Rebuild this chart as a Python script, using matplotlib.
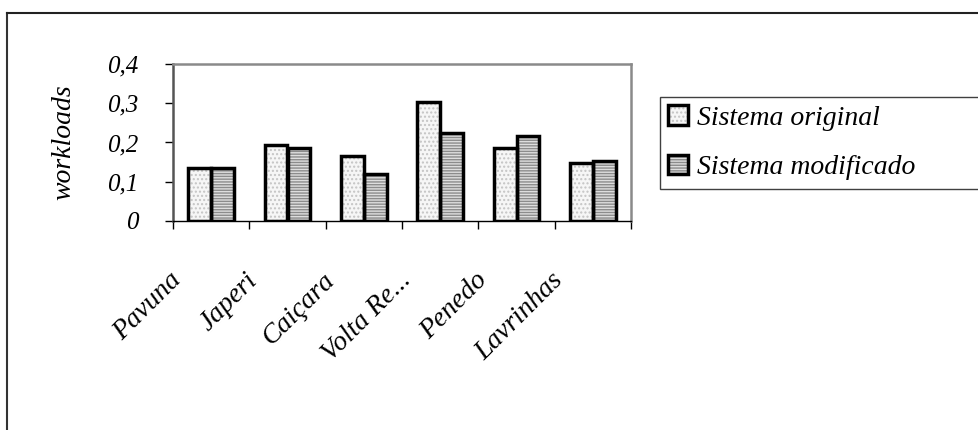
import matplotlib
matplotlib.use("Agg")
import matplotlib.pyplot as plt
import matplotlib.transforms as mtransforms
from matplotlib.patches import Patch
from matplotlib.lines import Line2D
import numpy as np

# dados (workloads por usina)
usinas = ["Pavuna", "Japeri", "Caiçara", "Volta Re...", "Penedo", "Lavrinhas"]
original = [0.135, 0.194, 0.166, 0.304, 0.185, 0.149]
modificado = [0.135, 0.187, 0.121, 0.223, 0.217, 0.154]
yticks = [0, 0.1, 0.2, 0.3, 0.4]
ytick_labels = ["0", "0,1", "0,2", "0,3", "0,4"]
series_names = ["Sistema original", "Sistema modificado"]

plt.rcParams["font.family"] = ["Liberation Serif", "DejaVu Serif"]
plt.rcParams["font.style"] = "italic"
plt.rcParams["hatch.linewidth"] = 1.0

fig = plt.figure(figsize=(9.79, 4.30), dpi=100)
W, H = 979, 430
ax = fig.add_axes([173 / W, 1 - 221 / H, 458 / W, 157 / H])

x = np.arange(len(usinas))
bw = 0.3
fill_o = dict(facecolor="#f6f6f6", edgecolor="#c4c4c4", hatch="....", linewidth=0)
fill_m = dict(facecolor="#dedede", edgecolor="#8c8c8c", hatch="------", linewidth=0)
contorno = dict(facecolor="none", edgecolor="black", linewidth=2.5)

# preenchimento com textura e depois o contorno preto
ax.bar(x - bw / 2, original, bw, **fill_o)
ax.bar(x + bw / 2, modificado, bw, **fill_m)
ax.bar(x - bw / 2, original, bw, **contorno)
ax.bar(x + bw / 2, modificado, bw, **contorno)

ax.set_xlim(-0.5, len(usinas) - 0.5)
ax.set_ylim(0, 0.4)
ax.set_yticks(yticks)
ax.set_yticklabels(ytick_labels, fontsize=18)
ax.tick_params(axis="y", direction="out", length=6, width=1, color="black", pad=19)

# marcas do eixo x entre as categorias
ax.set_xticks(np.arange(len(usinas) + 1) - 0.5)
ax.set_xticklabels([])
ax.tick_params(axis="x", direction="out", length=6, width=1, color="black")

for s in ["top", "right"]:
    ax.spines[s].set_color("#8a8a8a")
    ax.spines[s].set_linewidth(1.8)
ax.spines["left"].set_color("#555555")
ax.spines["left"].set_linewidth(1.8)
ax.spines["bottom"].set_color("black")
ax.spines["bottom"].set_linewidth(1.0)

# rótulos das categorias inclinados
base = mtransforms.blended_transform_factory(ax.transData, ax.transAxes)
off = mtransforms.ScaledTranslation(-42 / 100, -47 / 100, fig.dpi_scale_trans)
for i, nome in enumerate(usinas):
    ax.text(i, 0, nome, transform=base + off, rotation=45, rotation_mode="anchor",
            ha="right", va="top", fontsize=20)

ax.set_ylabel("workloads", fontsize=20)
ax.yaxis.set_label_coords(-0.212, 0.5)

# legenda
handles = [
    (Patch(**fill_o), Patch(facecolor="none", edgecolor="black", linewidth=2.5)),
    (Patch(**fill_m), Patch(facecolor="none", edgecolor="black", linewidth=2.5)),
]
leg = fig.legend(handles, series_names, loc="upper left",
                 bbox_to_anchor=(660 / W, 0.5, 400 / W, 1 - 97 / H - 0.5),
                 mode="expand", borderaxespad=0, fontsize=20, fancybox=False,
                 handlelength=0.72, handleheight=0.72, handletextpad=0.3,
                 labelspacing=0.85, borderpad=0.3, framealpha=1)
leg.get_frame().set_edgecolor("#404040")
leg.get_frame().set_linewidth(1.0)

# moldura externa do gráfico
fig.add_artist(Line2D([7 / W, 7 / W], [0, 1 - 13 / H], transform=fig.transFigure,
                      color="#333333", linewidth=1.5))
fig.add_artist(Line2D([7 / W, 1], [1 - 13 / H, 1 - 13 / H], transform=fig.transFigure,
                      color="#222222", linewidth=1.5))

fig.savefig("out.png", dpi=100, facecolor="white")
